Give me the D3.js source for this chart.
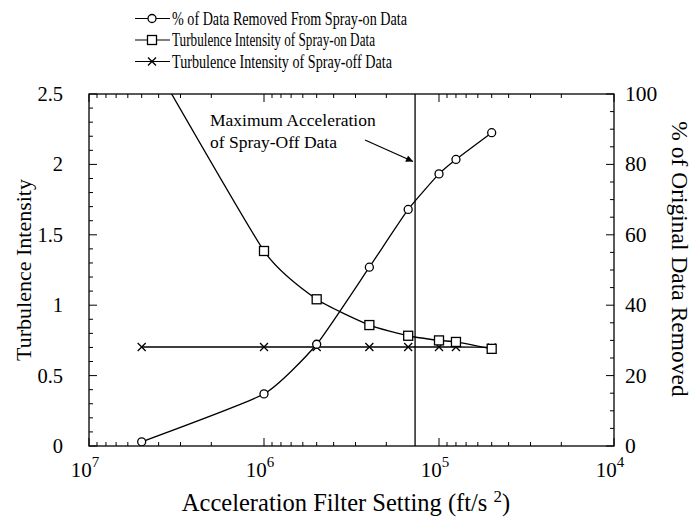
<!DOCTYPE html>
<html>
<head>
<meta charset="utf-8">
<script src="https://cdn.jsdelivr.net/npm/d3@7"></script>
<style>
  html, body { margin: 0; padding: 0; background: #fff; }
  text { font-family: "Liberation Serif", "Times New Roman", serif; }
</style>
</head>
<body>
<svg id="chart" width="692" height="518"></svg>
<script>
// Acceleration filter settings (ft/s^2)
const filterSettings = [5e6, 1e6, 5e5, 2.5e5, 1.5e5, 1e5, 8e4, 5e4];
// % of original data removed from spray-on data (right axis)
const pctRemoved = [1.2, 14.8, 28.9, 50.8, 67.2, 77.3, 81.4, 89.0];
// Turbulence intensity of spray-on data (left axis)
const tiSprayOn = [2.87, 1.385, 1.042, 0.859, 0.783, 0.75, 0.739, 0.69];
// Turbulence intensity of spray-off data (left axis)
const tiSprayOff = [0.703, 0.703, 0.703, 0.703, 0.703, 0.703, 0.703, 0.70];
// Maximum acceleration of spray-off data
const maxSprayOffAccel = [1.37e5];

const xDecades = [1e7, 1e6, 1e5, 1e4];
const xDecadeExp = ["7", "6", "5", "4"];
const leftTicks = [0, 0.5, 1, 1.5, 2, 2.5];
const leftTickLabels = ["0", "0.5", "1", "1.5", "2", "2.5"];
const rightTicks = [0, 20, 40, 60, 80, 100];
const legendLabels = [
  "% of Data Removed From Spray-on Data",
  "Turbulence Intensity of Spray-on Data",
  "Turbulence Intensity of Spray-off Data"
];

const FONT = "'Liberation Serif', 'Times New Roman', serif";
const svg = d3.select("#chart");
const L = 89, R = 614, T = 94, B = 446;

const x = d3.scaleLog().domain([1e7, 1e4]).range([L, R]);
const yL = d3.scaleLinear().domain([0, 2.5]).range([B, T]);
const yR = d3.scaleLinear().domain([0, 100]).range([B, T]);

svg.append("defs").append("clipPath").attr("id", "plotclip")
  .append("rect").attr("x", L).attr("y", T).attr("width", R - L).attr("height", B - T);

// minor log ticks
const minorX = [];
for (let e = 4; e < 7; e++) for (let m = 2; m <= 9; m++) minorX.push(m * Math.pow(10, e));

const g = svg.append("g");
const stroke = "#000";

function label(sel) {
  return sel.append("text").style("font-family", FONT).attr("fill", "#000");
}

// frame
g.append("rect").attr("x", L).attr("y", T).attr("width", R - L).attr("height", B - T)
  .attr("fill", "none").attr("stroke", stroke).attr("stroke-width", 1.3);

// x ticks, bottom and top, pointing inward
[[B, -1], [T, 1]].forEach(([y0, dir]) => {
  g.selectAll(null).data(minorX).enter().append("line")
    .attr("x1", d => x(d)).attr("x2", d => x(d))
    .attr("y1", y0).attr("y2", d => y0 + dir * 4)
    .attr("stroke", stroke).attr("stroke-width", 1);
  g.selectAll(null).data(xDecades).enter().append("line")
    .attr("x1", d => x(d)).attr("x2", d => x(d))
    .attr("y1", y0).attr("y2", y0 + dir * 8)
    .attr("stroke", stroke).attr("stroke-width", 1);
});

// left axis ticks
const leftMinor = d3.range(0, 2.5001, 0.1);
g.selectAll(null).data(leftMinor).enter().append("line")
  .attr("x1", L).attr("x2", d => L + (Math.abs(d * 2 - Math.round(d * 2)) < 1e-6 ? 8 : 4))
  .attr("y1", d => yL(d)).attr("y2", d => yL(d))
  .attr("stroke", stroke).attr("stroke-width", 1);

// right axis ticks
const rightMinor = d3.range(0, 100.001, 5);
g.selectAll(null).data(rightMinor).enter().append("line")
  .attr("x1", R).attr("x2", d => R - (d % 20 === 0 ? 8 : 4))
  .attr("y1", d => yR(d)).attr("y2", d => yR(d))
  .attr("stroke", stroke).attr("stroke-width", 1);

// tick labels
g.selectAll(null).data(leftTicks).enter().append("text")
  .style("font-family", FONT)
  .attr("x", 63).attr("y", d => yL(d) + 7)
  .attr("text-anchor", "end").attr("font-size", 20.5)
  .text((d, i) => leftTickLabels[i]);

g.selectAll(null).data(rightTicks).enter().append("text")
  .style("font-family", FONT)
  .attr("x", 625).attr("y", d => yR(d) + 7)
  .attr("text-anchor", "start").attr("font-size", 21.5)
  .text(d => d);

const xl = g.selectAll(null).data(xDecades).enter().append("text")
  .style("font-family", FONT)
  .attr("x", d => x(d) - 4).attr("y", 477)
  .attr("text-anchor", "middle").attr("font-size", 21);
xl.append("tspan").text("10");
xl.append("tspan").attr("dy", -10).attr("font-size", 15).text((d, i) => xDecadeExp[i]);

// axis titles
const xt = label(g).attr("x", 346).attr("y", 511)
  .attr("text-anchor", "middle").attr("font-size", 24.5);
xt.append("tspan").text("Acceleration Filter Setting (ft/s ");
xt.append("tspan").attr("dy", -9).attr("font-size", 17).text("2");
xt.append("tspan").attr("dy", 9).text(")");

label(g).attr("transform", `translate(31,${(T + B) / 2}) rotate(-90)`)
  .attr("text-anchor", "middle").attr("font-size", 22).text("Turbulence Intensity");
label(g).attr("transform", `translate(672,259) rotate(90)`)
  .attr("text-anchor", "middle").attr("font-size", 23.5).text("% of Original Data Removed");

// vertical line for maximum spray-off acceleration
g.selectAll(null).data(maxSprayOffAccel).enter().append("line")
  .attr("x1", d => x(d)).attr("x2", d => x(d)).attr("y1", T).attr("y2", B)
  .attr("stroke", stroke).attr("stroke-width", 1.3);

// annotation
label(g).attr("x", 210).attr("y", 126).attr("font-size", 17.5).text("Maximum Acceleration");
label(g).attr("x", 210).attr("y", 148).attr("font-size", 17.5).text("of Spray-Off Data");
svg.select("defs").append("marker").attr("id", "arrow")
  .attr("viewBox", "0 0 10 10").attr("refX", 10).attr("refY", 5)
  .attr("markerWidth", 9).attr("markerHeight", 7).attr("markerUnits", "userSpaceOnUse")
  .attr("orient", "auto")
  .append("path").attr("d", "M0,0 L10,5 L0,10 z").attr("fill", "#000");
g.append("line").attr("x1", 365).attr("y1", 140)
  .attr("x2", x(maxSprayOffAccel[0]) - 2).attr("y2", 161.5)
  .attr("stroke", stroke).attr("stroke-width", 1.3).attr("marker-end", "url(#arrow)");

// series lines
const curve = d3.curveCardinal.tension(0.5);
const plot = g.append("g").attr("clip-path", "url(#plotclip)");
const lineL = d3.line().x((d, i) => x(filterSettings[i])).y(d => yL(d)).curve(curve);
const lineR = d3.line().x((d, i) => x(filterSettings[i])).y(d => yR(d)).curve(curve);

plot.append("path").datum(pctRemoved).attr("d", lineR)
  .attr("fill", "none").attr("stroke", stroke).attr("stroke-width", 1.3);
plot.append("path").datum(tiSprayOn).attr("d", lineL)
  .attr("fill", "none").attr("stroke", stroke).attr("stroke-width", 1.3);
plot.append("path").datum(tiSprayOff).attr("d", lineL)
  .attr("fill", "none").attr("stroke", stroke).attr("stroke-width", 1.3);

// markers
function circleMark(sel, cx, cy) {
  sel.append("circle").attr("cx", cx).attr("cy", cy).attr("r", 4)
    .attr("fill", "#fff").attr("stroke", stroke).attr("stroke-width", 1.3);
}
function squareMark(sel, cx, cy) {
  sel.append("rect").attr("x", cx - 4.5).attr("y", cy - 4.5).attr("width", 9).attr("height", 9)
    .attr("fill", "#fff").attr("stroke", stroke).attr("stroke-width", 1.3);
}
function crossMark(sel, cx, cy) {
  sel.append("path").attr("d", `M${cx - 4},${cy - 4}L${cx + 4},${cy + 4}M${cx - 4},${cy + 4}L${cx + 4},${cy - 4}`)
    .attr("stroke", stroke).attr("stroke-width", 1.3).attr("fill", "none");
}

const marks = plot.append("g");
tiSprayOff.forEach((v, i) => crossMark(marks, x(filterSettings[i]), yL(v)));
tiSprayOn.forEach((v, i) => squareMark(marks, x(filterSettings[i]), yL(v)));
pctRemoved.forEach((v, i) => circleMark(marks, x(filterSettings[i]), yR(v)));

// legend (condensed serif lettering)
const legendY = [18.5, 40, 61.5];
const legendWidths = [235, 203, 220];
const markFns = [circleMark, squareMark, crossMark];
legendLabels.forEach((lab, i) => {
  const lg = svg.append("g");
  lg.append("line").attr("x1", 135).attr("x2", 170).attr("y1", legendY[i]).attr("y2", legendY[i])
    .attr("stroke", stroke).attr("stroke-width", 1.2);
  markFns[i](lg, 152, legendY[i]);
  label(lg).attr("x", 172).attr("y", legendY[i] + 6).attr("font-size", 18)
    .attr("textLength", legendWidths[i]).attr("lengthAdjust", "spacingAndGlyphs")
    .text(lab);
});
</script>
</body>
</html>
